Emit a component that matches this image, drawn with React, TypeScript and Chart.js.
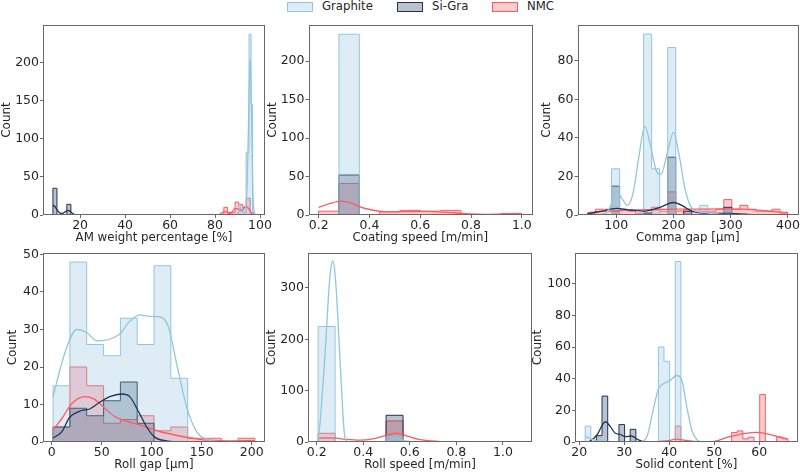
import React, { useEffect, useRef } from 'react';
import { Chart, registerables } from 'chart.js';

Chart.register(...registerables);

const FONT = "'DejaVu Sans', 'Liberation Sans', sans-serif";
const TEXT = '#262626';
const SPINE = '#686868';

const GRAPHITE = '#92c5de';
const SIGRA = '#1d3557';
const NMC = '#ff5a5f';
const FILL_ALPHA = 0.3;

Chart.defaults.font.family = FONT;
Chart.defaults.color = TEXT;

type Pt = [number, number];

// ---- AM weight percentage [%] ----
const amTicksX = [20, 40, 60, 80, 100];
const amTicksY = [0, 50, 100, 150, 200];
const amGraphiteEdges = [90.4, 91.4, 92.4, 93.8, 95.1, 96.0, 96.7, 97.7];
const amGraphiteCounts = [13, 5, 3, 82, 237, 145, 3];
const amSiGraEdges = [7.9, 9.7, 14.1, 15.9];
const amSiGraCounts = [35, 0, 14];
const amNmcEdges = [82.2, 83.9, 85.6, 87.2, 88.9, 90.5, 92.3, 94.0, 95.6, 97.3];
const amNmcCounts = [1, 10, 2, 3, 17, 14, 10, 22, 3];
const amGraphiteKde: Pt[] = [[7.9, 0], [89.5, 0], [90.4, 4], [91, 9], [91.6, 8], [92.4, 3], [93.2, 4], [94, 25], [94.6, 80], [95.2, 170], [95.6, 205], [96.1, 160], [96.6, 60], [97.1, 12], [97.7, 2]];
const amSiGraKde: Pt[] = [[7.9, 13], [8.5, 12], [9.5, 8], [10.5, 4], [11.5, 2], [12.5, 2.5], [13.5, 4.5], [14.5, 6], [15.3, 5.5], [16.3, 3], [17.3, 1], [18.5, 0.2], [20, 0], [97.7, 0]];
const amNmcKde: Pt[] = [[7.9, 0], [81.4, 0], [82.2, 1], [83.2, 3], [84, 4.3], [85.2, 3.8], [86.7, 3], [88, 5.5], [88.9, 8.8], [90.4, 7.4], [91.9, 5.7], [93.3, 11], [94.8, 8.8], [96.3, 2], [97.7, 0.3]];

// ---- Coating speed [m/min] ----
const coatTicksX = [0.2, 0.4, 0.6, 0.8, 1.0];
const coatTicksY = [0, 50, 100, 150, 200];
const coatEdges = [0.2, 0.28, 0.36, 0.44, 0.52, 0.6, 0.68, 0.76, 0.84, 0.92, 1.0];
const coatGraphite = [0, 235, 0, 0, 0, 0, 0, 0, 0, 0];
const coatSiGra = [0, 52, 0, 0, 0, 0, 0, 0, 0, 0];
const coatNmc = [5, 41, 0, 4, 6, 5, 6, 1, 0, 2];
const coatNmcKde: Pt[] = [[0.2, 10], [0.24, 14.5], [0.29, 18], [0.33, 15.5], [0.36, 11], [0.41, 6.5], [0.46, 4.3], [0.54, 4.3], [0.6, 4.6], [0.7, 3.5], [0.78, 1.7], [0.84, 0.9], [0.93, 1.3], [1.0, 1.7]];

// ---- Comma gap [µm] ----
const commaTicksX = [100, 200, 300, 400];
const commaTicksY = [0, 20, 40, 60, 80];
const commaEdges = [50, 64, 78, 92, 106, 120, 134, 148, 162, 176, 190, 204, 218, 232, 246, 260, 274, 288, 302, 316, 330, 344, 358, 372, 386, 400];
const commaGraphite = [0, 0, 0, 24, 0, 0, 0, 94, 24, 0, 87, 0, 0, 0, 5, 0, 0, 3, 0, 0, 0, 0, 0, 0, 0];
const commaSiGra = [0, 0, 0, 15, 0, 0, 0, 1, 0, 0, 30, 0, 2, 0, 0, 0, 0, 4, 0, 0, 0, 0, 0, 0, 0];
const commaNmc = [1, 3, 3, 2, 3, 2, 1, 1, 4, 2, 12, 2, 3, 2, 2, 2, 3, 8, 3, 5, 3, 2, 2, 3, 1];
const commaGraphiteKde: Pt[] = [[50, 0], [70, 0.1], [80, 0.6], [90, 4.5], [100, 12.5], [110, 8.5], [120, 5], [130, 12], [140, 31], [150, 46], [160, 36], [170, 23], [178, 21], [190, 33], [200, 43], [210, 31], [220, 14], [230, 4.5], [245, 1.5], [260, 1], [280, 0.5], [300, 0.3], [330, 0], [400, 0]];
const commaSiGraKde: Pt[] = [[50, 0.6], [75, 2], [100, 3.4], [125, 2.6], [150, 2], [175, 3.8], [200, 6.5], [215, 5], [230, 2.2], [250, 1], [275, 0.8], [300, 0.8], [325, 0.4], [350, 0.1], [400, 0]];
const commaNmcKde: Pt[] = [[50, 1.2], [80, 2], [120, 2.5], [160, 2.8], [200, 3], [240, 3], [280, 3.2], [320, 3], [360, 2.2], [400, 1.2]];

// ---- Roll gap [µm] ----
const rollGapTicksX = [0, 50, 100, 150, 200];
const rollGapTicksY = [0, 10, 20, 30, 40, 50];
const rollGapEdges = [1.4, 18.2, 35.0, 51.9, 68.7, 85.5, 102.3, 119.1, 136.0, 152.8, 169.6, 186.4, 203.2];
const rollGapGraphite = [15, 48, 26, 23, 33, 26, 47, 17, 0, 0, 0, 0];
const rollGapSiGra = [4, 9, 7, 11, 16, 5, 0, 0, 0, 0, 0, 0];
const rollGapNmc = [4, 20, 15, 5, 6, 7, 3, 4, 1, 1, 0, 1];
const rollGapGraphiteKde: Pt[] = [[1.4, 12], [8, 19], [15, 25.2], [25, 30], [35, 29.2], [45, 27], [58, 27.4], [68, 28.8], [77, 31.9], [88, 33.9], [98, 33.5], [108, 33.4], [117, 30.5], [125, 20.8], [135, 9.3], [145, 2.7], [153, 0.9], [162, 0.3], [175, 0], [203.2, 0]];
const rollGapSiGraKde: Pt[] = [[1.4, 1.1], [10, 2.7], [18, 6.6], [30, 8.4], [38, 8.8], [48, 10.6], [58, 12.1], [70, 12.8], [78, 12.1], [88, 7.5], [95, 4], [103, 1.3], [115, 0.3], [130, 0], [203.2, 0]];
const rollGapNmcKde: Pt[] = [[1.4, 3.3], [10, 6.2], [20, 10.2], [33, 12.1], [42, 11.5], [52, 9.3], [63, 6.8], [78, 5.3], [92, 4.2], [108, 2.8], [128, 1.6], [148, 0.7], [168, 0.35], [185, 0.3], [203.2, 0.35]];

// ---- Roll speed [m/min] ----
const rollSpeedTicksX = [0.2, 0.4, 0.6, 0.8, 1.0];
const rollSpeedTicksY = [0, 100, 200, 300];
const rollSpeedEdges = [0.206, 0.279, 0.352, 0.425, 0.498, 0.571, 0.644, 0.717, 0.789, 0.862, 0.935, 1.008, 1.081];
const rollSpeedGraphite = [225, 0, 0, 0, 10, 0, 0, 0, 0, 0, 0, 0];
const rollSpeedSiGra = [0, 0, 0, 0, 52, 0, 0, 0, 0, 0, 0, 0];
const rollSpeedNmc = [17, 0, 0, 0, 41, 0, 0, 0, 0, 0, 0, 1];
const rollSpeedGraphiteKde: Pt[] = [[0.206, 5], [0.215, 40], [0.225, 100], [0.236, 172], [0.246, 250], [0.255, 313], [0.262, 342], [0.269, 352], [0.277, 335], [0.286, 282], [0.295, 205], [0.304, 127], [0.312, 60], [0.319, 16], [0.329, 2], [0.345, 0], [0.47, 0], [0.5, 2], [0.54, 7], [0.58, 2], [0.62, 0], [1.081, 0]];
const rollSpeedNmcKde: Pt[] = [[0.206, 7.5], [0.24, 8], [0.28, 7.5], [0.33, 5], [0.386, 3.7], [0.44, 6], [0.49, 12], [0.537, 17], [0.58, 13], [0.637, 5.2], [0.72, 1.3], [0.8, 0.5], [0.86, 0.5], [0.94, 0.7], [1.0, 0.8], [1.081, 0.8]];

// ---- Solid content [%] ----
const solidTicksX = [20, 30, 40, 50, 60];
const solidTicksY = [0, 20, 40, 60, 80, 100];
const solidEdges = [21.3, 22.55, 23.8, 25.05, 26.31, 27.56, 28.81, 30.06, 31.31, 32.56, 33.81, 35.07, 36.32, 37.57, 38.82, 40.07, 41.32, 42.57, 43.83, 45.08, 46.33, 47.58, 48.83, 50.08, 51.33, 52.59, 53.84, 55.09, 56.34, 57.59, 58.84, 60.09, 61.34, 62.6, 63.85, 65.1, 66.35];
const solidGraphite = [10, 0, 0, 0, 0, 0, 0, 0, 0, 0, 0, 0, 0, 60, 51, 0, 114, 0, 0, 0, 0, 0, 0, 0, 0, 0, 0, 0, 0, 0, 0, 0, 0, 0, 0, 0];
const solidSiGra = [0, 0, 4, 29, 0, 0, 11, 0, 8, 0, 0, 0, 0, 0, 0, 0, 0, 0, 0, 0, 0, 0, 0, 0, 0, 0, 0, 0, 0, 0, 0, 0, 0, 0, 0, 0];
const solidNmc = [0, 0, 0, 0, 0, 0, 0, 0, 0, 0, 0, 0, 0, 0, 0, 0, 10, 0, 0, 0, 0, 0, 0, 0, 0, 0, 6, 7, 2, 3, 0, 30, 0, 0, 3, 2];
const solidGraphiteKde: Pt[] = [[21.3, 3.6], [21.6, 3.2], [22.3, 2.2], [23.1, 1.5], [24, 0.4], [25, 0], [33.5, 0], [35, 3.2], [36.4, 20], [37.6, 33.6], [38.7, 36.8], [40.2, 38.9], [41.6, 42], [42.8, 38.9], [43.9, 22.1], [45, 7.4], [46.1, 1.5], [47.3, 0], [66.35, 0]];
const solidSiGraKde: Pt[] = [[21.3, 0], [22.4, 0.6], [23.9, 4.4], [25.8, 12.8], [26.9, 9.7], [28, 5.5], [29.1, 4.8], [30.2, 3.4], [31.6, 3.8], [32.9, 1.7], [34, 0.4], [35.5, 0], [66.35, 0]];
const solidNmcKde: Pt[] = [[21.3, 0], [36, 0], [38, 0.4], [39.9, 0.8], [41.5, 1.8], [43.6, 1], [46, 0.3], [48, 0.1], [50, 0.4], [53.2, 3.2], [56.9, 5.5], [59.5, 6.1], [62.8, 4.4], [66.35, 1.8]];

const legendItems = [
  { label: 'Graphite', color: GRAPHITE, patchLeft: 287, textLeft: 322 },
  { label: 'Si-Gra', color: SIGRA, patchLeft: 397, textLeft: 432 },
  { label: 'NMC', color: NMC, patchLeft: 492, textLeft: 527 },
];

interface HistSeries { edges: number[]; counts: number[]; color: string }
interface KdeSeries { points: Pt[]; color: string }

interface PanelProps {
  box: [number, number, number, number];
  yAxisWidth: number;
  xMin: number;
  xMax: number;
  xTicks: number[];
  xDecimals: number;
  yMax: number;
  yTicks: number[];
  xTitle: string;
  hists: HistSeries[];
  kdes: KdeSeries[];
}

function withAlpha(hex: string, a: number) {
  const n = parseInt(hex.slice(1), 16);
  return `rgba(${(n >> 16) & 255}, ${(n >> 8) & 255}, ${n & 255}, ${a})`;
}

// outline of a histogram drawn as a step line
function stepPoints(edges: number[], counts: number[]) {
  const pts = [{ x: edges[0], y: 0 }];
  counts.forEach((c, i) => pts.push({ x: edges[i], y: c }));
  pts.push({ x: edges[edges.length - 1], y: 0 });
  return pts;
}

const framePlugin = {
  id: 'frame',
  afterDatasetsDraw(chart: any) {
    const { ctx, chartArea: a } = chart;
    ctx.save();
    ctx.strokeStyle = SPINE;
    ctx.lineWidth = 1;
    ctx.strokeRect(Math.round(a.left) + 0.5, Math.round(a.top) + 0.5, Math.round(a.right - a.left) - 1, Math.round(a.bottom - a.top) - 1);
    ctx.restore();
  },
};

const PAD_TOP = 10;
const PAD_RIGHT = 16;
const PAD_BOTTOM = 4;
const X_AXIS_H = 30;

const Panel: React.FC<PanelProps> = (p) => {
  const canvasRef = useRef<HTMLCanvasElement>(null);
  const [l, t, r, b] = p.box;
  const left = l - p.yAxisWidth;
  const top = t - PAD_TOP;
  const width = r - left + PAD_RIGHT;
  const height = b - top + X_AXIS_H + PAD_BOTTOM;

  useEffect(() => {
    if (!canvasRef.current) return;
    const ctx = canvasRef.current.getContext('2d');
    if (!ctx) return;

    const kdeSets = p.kdes.map((k) => ({
      data: k.points.map(([x, y]) => ({ x, y })),
      borderColor: k.color,
      borderWidth: 1.3,
      pointRadius: 0,
      fill: false,
      cubicInterpolationMode: 'monotone' as const,
    }));
    const histSets = p.hists.map((h) => ({
      data: stepPoints(h.edges, h.counts),
      borderColor: h.color,
      backgroundColor: withAlpha(h.color, FILL_ALPHA),
      borderWidth: 1,
      pointRadius: 0,
      stepped: true,
      fill: 'origin',
    }));

    const tickGrid = { display: true, drawOnChartArea: false, drawTicks: true, tickLength: 3, color: SPINE };

    const chart = new Chart(ctx, {
      type: 'line',
      data: { datasets: [...kdeSets, ...histSets] as any },
      options: {
        animation: false,
        responsive: false,
        events: [],
        layout: { padding: { top: PAD_TOP, right: PAD_RIGHT, bottom: PAD_BOTTOM, left: 0 } },
        plugins: { legend: { display: false }, tooltip: { enabled: false } },
        scales: {
          x: {
            type: 'linear',
            min: p.xMin,
            max: p.xMax,
            afterBuildTicks: (axis: any) => { axis.ticks = p.xTicks.map((v) => ({ value: v })); },
            afterFit: (axis: any) => { axis.height = X_AXIS_H; },
            ticks: {
              callback: (v: any) => Number(v).toFixed(p.xDecimals),
              font: { size: 12.5 },
              color: TEXT,
              padding: 0,
              autoSkip: false,
              maxRotation: 0,
            },
            grid: tickGrid,
            border: { display: false },
            title: { display: true, text: p.xTitle, font: { size: 11.8 }, color: TEXT, padding: 0 },
          },
          y: {
            type: 'linear',
            min: 0,
            max: p.yMax,
            afterBuildTicks: (axis: any) => { axis.ticks = p.yTicks.map((v) => ({ value: v })); },
            afterFit: (axis: any) => { axis.width = p.yAxisWidth; },
            ticks: { callback: (v: any) => String(v), font: { size: 12.5 }, color: TEXT, padding: 1, autoSkip: false },
            grid: tickGrid,
            border: { display: false },
            title: { display: true, text: 'Count', font: { size: 12 }, color: TEXT, padding: 0 },
          },
        },
      },
      plugins: [framePlugin],
    });

    return () => chart.destroy();
  }, [p]);

  return (
    <canvas
      ref={canvasRef}
      width={width}
      height={height}
      style={{ position: 'absolute', left, top, width, height }}
    />
  );
};

const panels: PanelProps[] = [
  {
    box: [43, 25, 265, 215], yAxisWidth: 43, xMin: 3.5, xMax: 102.2, xTicks: amTicksX, xDecimals: 0,
    yMax: 249, yTicks: amTicksY, xTitle: 'AM weight percentage [%]',
    hists: [
      { edges: amGraphiteEdges, counts: amGraphiteCounts, color: GRAPHITE },
      { edges: amSiGraEdges, counts: amSiGraCounts, color: SIGRA },
      { edges: amNmcEdges, counts: amNmcCounts, color: NMC },
    ],
    kdes: [
      { points: amGraphiteKde, color: GRAPHITE },
      { points: amSiGraKde, color: SIGRA },
      { points: amNmcKde, color: NMC },
    ],
  },
  {
    box: [308, 25, 532, 215], yAxisWidth: 42.5, xMin: 0.16, xMax: 1.04, xTicks: coatTicksX, xDecimals: 1,
    yMax: 247, yTicks: coatTicksY, xTitle: 'Coating speed [m/min]',
    hists: [
      { edges: coatEdges, counts: coatGraphite, color: GRAPHITE },
      { edges: coatEdges, counts: coatSiGra, color: SIGRA },
      { edges: coatEdges, counts: coatNmc, color: NMC },
    ],
    kdes: [{ points: coatNmcKde, color: NMC }],
  },
  {
    box: [577, 25, 798, 215], yAxisWidth: 37.5, xMin: 32.5, xMax: 417.5, xTicks: commaTicksX, xDecimals: 0,
    yMax: 98.7, yTicks: commaTicksY, xTitle: 'Comma gap [µm]',
    hists: [
      { edges: commaEdges, counts: commaGraphite, color: GRAPHITE },
      { edges: commaEdges, counts: commaSiGra, color: SIGRA },
      { edges: commaEdges, counts: commaNmc, color: NMC },
    ],
    kdes: [
      { points: commaGraphiteKde, color: GRAPHITE },
      { points: commaSiGraKde, color: SIGRA },
      { points: commaNmcKde, color: NMC },
    ],
  },
  {
    box: [43, 253, 265, 442], yAxisWidth: 37, xMin: -8.7, xMax: 213.3, xTicks: rollGapTicksX, xDecimals: 0,
    yMax: 50.4, yTicks: rollGapTicksY, xTitle: 'Roll gap [µm]',
    hists: [
      { edges: rollGapEdges, counts: rollGapGraphite, color: GRAPHITE },
      { edges: rollGapEdges, counts: rollGapSiGra, color: SIGRA },
      { edges: rollGapEdges, counts: rollGapNmc, color: NMC },
    ],
    kdes: [
      { points: rollGapGraphiteKde, color: GRAPHITE },
      { points: rollGapSiGraKde, color: SIGRA },
      { points: rollGapNmcKde, color: NMC },
    ],
  },
  {
    box: [308, 253, 532, 442], yAxisWidth: 43, xMin: 0.1626, xMax: 1.125, xTicks: rollSpeedTicksX, xDecimals: 1,
    yMax: 368, yTicks: rollSpeedTicksY, xTitle: 'Roll speed [m/min]',
    hists: [
      { edges: rollSpeedEdges, counts: rollSpeedGraphite, color: GRAPHITE },
      { edges: rollSpeedEdges, counts: rollSpeedSiGra, color: SIGRA },
      { edges: rollSpeedEdges, counts: rollSpeedNmc, color: NMC },
    ],
    kdes: [
      { points: rollSpeedGraphiteKde, color: GRAPHITE },
      { points: rollSpeedNmcKde, color: NMC },
    ],
  },
  {
    box: [575, 253, 798, 442], yAxisWidth: 44, xMin: 19.04, xMax: 68.6, xTicks: solidTicksX, xDecimals: 0,
    yMax: 119.4, yTicks: solidTicksY, xTitle: 'Solid content [%]',
    hists: [
      { edges: solidEdges, counts: solidGraphite, color: GRAPHITE },
      { edges: solidEdges, counts: solidSiGra, color: SIGRA },
      { edges: solidEdges, counts: solidNmc, color: NMC },
    ],
    kdes: [
      { points: solidGraphiteKde, color: GRAPHITE },
      { points: solidSiGraKde, color: SIGRA },
      { points: solidNmcKde, color: NMC },
    ],
  },
];

const App: React.FC = () => (
  <div
    style={{
      position: 'absolute', left: 0, top: 0, width: 800, height: 475,
      overflow: 'hidden', background: '#ffffff', fontFamily: FONT, color: TEXT,
    }}
  >
    {legendItems.map((item) => (
      <React.Fragment key={item.label}>
        <div
          style={{
            position: 'absolute', left: item.patchLeft, top: 2, width: 24, height: 8,
            background: withAlpha(item.color, FILL_ALPHA), border: `1px solid ${item.color}`,
          }}
        />
        <span
          style={{
            position: 'absolute', left: item.textLeft, top: -1, fontSize: 11.7,
            lineHeight: '14px', whiteSpace: 'nowrap',
          }}
        >
          {item.label}
        </span>
      </React.Fragment>
    ))}
    {panels.map((p) => (
      <Panel key={p.xTitle} {...p} />
    ))}
  </div>
);

export default App;
